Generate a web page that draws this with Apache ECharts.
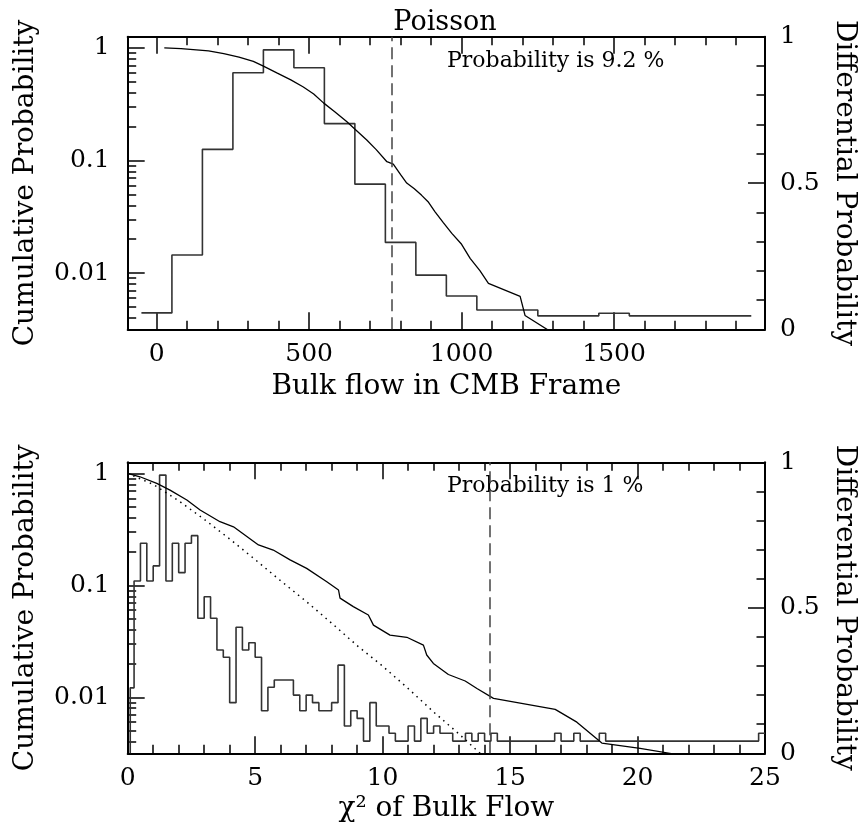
<!DOCTYPE html>
<html>
<head>
<meta charset="utf-8">
<script src="https://cdn.jsdelivr.net/npm/echarts@6/dist/echarts.min.js"></script>
<style>
html,body{margin:0;padding:0;background:#fff;}
#chart{width:859px;height:831px;}
</style>
</head>
<body>
<div id="chart"></div>
<script>
// ---------------- data ----------------
// Top panel: bulk flow (km/s) histogram, bins of 100 centred on these values
const flowBinCenters = [0,100,200,300,400,500,600,700,800,900,1000,1100,1200,1300,1400,1500,1600,1700,1800,1900];
const flowHist = [0.056,0.254,0.615,0.877,0.955,0.894,0.703,0.496,0.297,0.185,0.114,0.066,0.066,0.046,0.046,0.055,0.046,0.046,0.046,0.046];
const flowBinHalf = 50;
// Top panel cumulative probability curve
const flowCumX = [25,80,120,170,220,270,317,350,394,440,481,515,547,585,623,655,689,720,755,776,800,820,845,869,890,913,940,968,1000,1028,1060,1088,1192,1208,1285];
const flowCumY = [1.0,0.985,0.965,0.94,0.89,0.83,0.76,0.69,0.60,0.52,0.45,0.39,0.325,0.27,0.222,0.185,0.152,0.125,0.0975,0.093,0.075,0.063,0.056,0.049,0.043,0.035,0.028,0.0225,0.018,0.0135,0.0105,0.0081,0.0062,0.0042,0.0031];
const flowObserved = 770;
const flowProbText = 'Probability is 9.2 %';

// Bottom panel: chi^2 histogram, bins of 0.25 (first bin starts at 0.1)
const chiHistStart = 0.1;
const chiBinWidth = 0.25;
const chiHistEnd = 25;
const chiHist = [
 0.225,0.592,0.722,0.592,0.644,0.956,0.592,0.722,0.621,0.722,
 0.748,0.464,0.538,0.464,0.355,0.330,0.174,0.433,0.355,0.380,
 0.330,0.146,0.227,0.252,0.252,0.252,0.200,0.146,0.200,0.174,
 0.146,0.146,0.174,0.303,0.094,0.146,0.120,0.042,0.174,0.094,
 0.094,0.069,0.042,0.042,0.094,0.042,0.120,0.069,0.094,0.069,
 0.069,0.042,0.042,0.069,0.042,0.069,0.042,0.069,0.042,0.042,
 0.042,0.042,0.042,0.042,0.042,0.042,0.042,0.069,0.042,0.042,
 0.069,0.042,0.042,0.042,0.069,0.042,0.042,0.042,0.042,0.042,
 0.042,0.042,0.042,0.042,0.042,0.042,0.042,0.042,0.042,0.042,
 0.042,0.042,0.042,0.042,0.042,0.042,0.042,0.042,0.042,0.069];
// Bottom panel cumulative curve (solid)
const chiCumX = [0,0.48,1.14,1.66,2.32,2.84,3.62,4.15,5.13,5.71,6.37,7.02,7.81,8.27,8.33,8.85,9.44,9.64,10.29,10.95,11.6,11.73,11.99,12.58,13.24,13.70,14.35,16.77,17.62,18.6,20.1,21.5];
const chiCumY = [1.0,0.935,0.816,0.711,0.579,0.472,0.371,0.334,0.230,0.207,0.169,0.142,0.108,0.091,0.077,0.0646,0.0544,0.0442,0.036,0.0344,0.0293,0.0239,0.0201,0.016,0.014,0.012,0.0098,0.0078,0.006,0.0039,0.0035,0.0031];
// Bottom panel expected curve (dotted)
const chiModelX = [0,1,2,3,4,5,6,7,8,9,10,11,12,13,14];
const chiModelY = [1.0,0.80,0.57,0.39,0.26,0.17,0.11,0.072,0.046,0.029,0.019,0.012,0.0074,0.0047,0.0029];
const chiObserved = 14.2;
const chiProbText = 'Probability is 1 %';

// tick values / labels
const flowMajorTicks = [0,500,1000,1500];
const flowMinorTicks = [0,100,200,300,400,500,600,700,800,900,1000,1100,1200,1300,1400,1500,1600,1700,1800,1900];
const chiMajorTicks = [0,5,10,15,20,25];
const chiMinorTicks = [0,1,2,3,4,5,6,7,8,9,10,11,12,13,14,15,16,17,18,19,20,21,22,23,24,25];
const cumMajorTicks = [0.01,0.1,1];
const cumMinorTicks = [0.004,0.005,0.006,0.007,0.008,0.009,0.02,0.03,0.04,0.05,0.06,0.07,0.08,0.09,0.2,0.3,0.4,0.5,0.6,0.7,0.8,0.9];
const diffLabels = [0,0.5,1];
const diffMajorTicks = [0.5];
const diffMinorTicks = [0.1,0.2,0.3,0.4,0.5,0.6,0.7,0.8,0.9];

const titleText = 'Poisson';
const leftName = 'Cumulative Probability';
const rightName = 'Differential Probability';
const flowName = 'Bulk flow in CMB Frame';
const chiName = 'χ² of Bulk Flow';

// ---------------- build ----------------
const FONT = '"DejaVu Serif", "Liberation Serif", serif';
const INK = '#000';
const MAJ = 17, MIN = 8.5;
const TICKFS = 25;

const flowStep = flowBinCenters.map((c, i) => [c - flowBinHalf, flowHist[i]]);
flowStep.push([flowBinCenters[flowBinCenters.length - 1] + flowBinHalf, flowHist[flowHist.length - 1]]);

const chiStep = [[chiHistStart, 0]];
chiHist.forEach((v, i) => chiStep.push([i === 0 ? chiHistStart : i * chiBinWidth, v]));
chiStep.push([chiHistEnd, chiHist[chiHist.length - 1]]);

const zip = (a, b) => a.map((x, i) => [x, b[i]]);
const fmt = v => String(+(+v).toPrecision(4));

const grids = [
  {left: 127.7, top: 36.7, width: 637.3, height: 292.6, outerBoundsMode: 'none'},
  {left: 127.7, top: 462.3, width: 637.3, height: 291, outerBoundsMode: 'none'}
];

function xAxes(g, min, max, major, minor, name, nameGap, labelMargin) {
  const common = {type: 'value', gridIndex: g, min: min, max: max, splitLine: {show: false}};
  return [
    Object.assign({}, common, {
      position: 'bottom',
      axisLine: {show: true, onZero: false, lineStyle: {color: INK, width: 2}},
      axisTick: {show: true, inside: true, length: MIN, customValues: minor, lineStyle: {color: INK, width: 1.5}},
      axisLabel: {show: true, customValues: major, margin: labelMargin, color: INK, fontFamily: FONT, fontSize: TICKFS, formatter: fmt},
      name: name, nameLocation: 'middle', nameGap: nameGap,
      nameTextStyle: {color: INK, fontFamily: FONT, fontSize: 28}
    }),
    Object.assign({}, common, {
      position: 'bottom',
      axisLine: {show: false, onZero: false},
      axisTick: {show: true, inside: true, length: MAJ, customValues: major, lineStyle: {color: INK, width: 1.5}},
      axisLabel: {show: false}
    }),
    Object.assign({}, common, {
      position: 'top',
      axisLine: {show: true, onZero: false, lineStyle: {color: INK, width: 2}},
      axisTick: {show: true, inside: true, length: MIN, customValues: minor, lineStyle: {color: INK, width: 1.5}},
      axisLabel: {show: false}
    }),
    Object.assign({}, common, {
      position: 'top',
      axisLine: {show: false, onZero: false},
      axisTick: {show: true, inside: true, length: MAJ, customValues: major, lineStyle: {color: INK, width: 1.5}},
      axisLabel: {show: false}
    })
  ];
}

function yAxes(g) {
  const logCommon = {type: 'log', logBase: 10, gridIndex: g, min: 0.0031623, max: 1.2589, splitLine: {show: false}};
  const linCommon = {type: 'value', gridIndex: g, min: 0, max: 1, splitLine: {show: false}};
  return [
    Object.assign({}, logCommon, {
      position: 'left',
      axisLine: {show: true, onZero: false, lineStyle: {color: INK, width: 2}},
      axisTick: {show: true, inside: true, length: MIN, customValues: cumMinorTicks, lineStyle: {color: INK, width: 1.5}},
      axisLabel: {show: true, customValues: cumMajorTicks, margin: 18, color: INK, fontFamily: FONT, fontSize: TICKFS, formatter: fmt},
      name: leftName, nameLocation: 'middle', nameGap: 88,
      nameTextStyle: {color: INK, fontFamily: FONT, fontSize: 28}
    }),
    Object.assign({}, logCommon, {
      position: 'left',
      axisLine: {show: false, onZero: false},
      axisTick: {show: true, inside: true, length: MAJ, customValues: cumMajorTicks, lineStyle: {color: INK, width: 1.5}},
      axisLabel: {show: false}
    }),
    Object.assign({}, linCommon, {
      position: 'right',
      axisLine: {show: true, onZero: false, lineStyle: {color: INK, width: 2}},
      axisTick: {show: true, inside: true, length: MIN, customValues: diffMinorTicks, lineStyle: {color: INK, width: 1.5}},
      axisLabel: {show: true, customValues: diffLabels, margin: 15, color: INK, fontFamily: FONT, fontSize: TICKFS, formatter: fmt},
      name: rightName, nameLocation: 'middle', nameGap: 65, nameRotate: -90,
      nameTextStyle: {color: INK, fontFamily: FONT, fontSize: 28}
    }),
    Object.assign({}, linCommon, {
      position: 'right',
      axisLine: {show: false, onZero: false},
      axisTick: {show: true, inside: true, length: MAJ, customValues: diffMajorTicks, lineStyle: {color: INK, width: 1.5}},
      axisLabel: {show: false}
    })
  ];
}

const xAxis = [].concat(
  xAxes(0, -95, 1995, flowMajorTicks, flowMinorTicks, flowName, 43, 13),
  xAxes(1, 0, 25, chiMajorTicks, chiMinorTicks, chiName, 41, 13)
);
const yAxis = [].concat(yAxes(0), yAxes(1));

const dashStyle = {color: '#444', width: 1.5, type: [12, 6]};

const series = [
  {
    name: 'flow histogram', type: 'line', xAxisIndex: 0, yAxisIndex: 2, step: 'end',
    data: flowStep, showSymbol: false, symbol: 'none', silent: true,
    lineStyle: {color: '#333', width: 1.6},
    markLine: {symbol: 'none', silent: true, label: {show: false}, lineStyle: dashStyle,
      data: [{xAxis: flowObserved}]}
  },
  {
    name: 'flow cumulative', type: 'line', xAxisIndex: 0, yAxisIndex: 0,
    data: zip(flowCumX, flowCumY), showSymbol: false, symbol: 'none', silent: true,
    lineStyle: {color: '#000', width: 1.3}
  },
  {
    name: 'chi2 histogram', type: 'line', xAxisIndex: 4, yAxisIndex: 6, step: 'end',
    data: chiStep, showSymbol: false, symbol: 'none', silent: true,
    lineStyle: {color: '#333', width: 1.6},
    markLine: {symbol: 'none', silent: true, label: {show: false}, lineStyle: dashStyle,
      data: [{xAxis: chiObserved}]}
  },
  {
    name: 'chi2 cumulative', type: 'line', xAxisIndex: 4, yAxisIndex: 4,
    data: zip(chiCumX, chiCumY), showSymbol: false, symbol: 'none', silent: true,
    lineStyle: {color: '#000', width: 1.3}
  },
  {
    name: 'chi2 expected', type: 'line', xAxisIndex: 4, yAxisIndex: 4,
    data: zip(chiModelX, chiModelY), showSymbol: false, symbol: 'none', silent: true,
    lineStyle: {color: '#000', width: 1.5, type: [1.5, 4.5]}
  }
];

const graphic = [
  {type: 'text', x: 445, y: 23, style: {text: titleText, font: '27px ' + FONT, fill: INK, align: 'center', verticalAlign: 'middle'}},
  {type: 'text', x: 447, y: 61, style: {text: flowProbText, font: '22px ' + FONT, fill: INK, align: 'left', verticalAlign: 'middle'}},
  {type: 'text', x: 447, y: 486, style: {text: chiProbText, font: '22px ' + FONT, fill: INK, align: 'left', verticalAlign: 'middle'}}
];

const chart = echarts.init(document.getElementById('chart'), null, {renderer: 'canvas'});
chart.setOption({
  animation: false,
  backgroundColor: '#fff',
  grid: grids,
  xAxis: xAxis,
  yAxis: yAxis,
  series: series,
  graphic: graphic
});
</script>
</body>
</html>
